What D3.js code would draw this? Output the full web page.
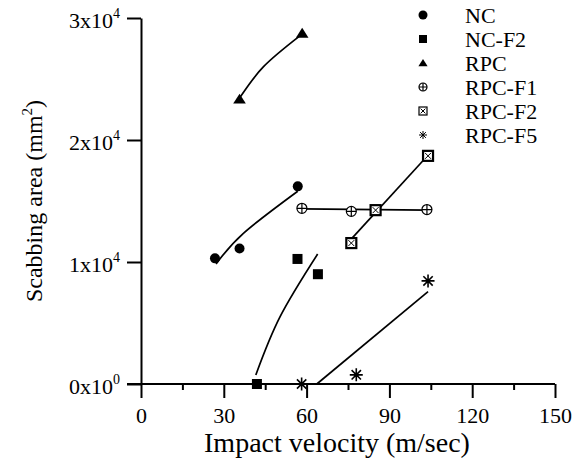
<!DOCTYPE html>
<html>
<head>
<meta charset="utf-8">
<script src="https://cdn.jsdelivr.net/npm/d3@7"></script>
<style>
  body { margin: 0; background: #fff; }
  svg { display: block; font-family: "Liberation Serif", "Times New Roman", serif; }
</style>
</head>
<body>
<svg id="chart" width="580" height="460"></svg>
<script>
// measured points (velocity m/sec, scabbing area mm2)
const ncV = [26.8, 35.7, 56.8];
const ncA = [10300, 11100, 16200];
const ncf2V = [42, 56.7, 64.1];
const ncf2A = [0, 10250, 9000];
const rpcV = [35.7, 58.4];
const rpcA = [23350, 28750];
const rpcf1V = [58.3, 76.2, 103.6];
const rpcf1A = [14400, 14150, 14300];
const rpcf2V = [76.2, 85, 104];
const rpcf2A = [11550, 14250, 18700];
const rpcf5V = [58.2, 78, 104];
const rpcf5A = [0, 750, 8450];

// fitted curves
const ncFitV = [27.2, 37.1, 56.8];
const ncFitA = [9840, 12350, 15800];
const ncf2FitV = [41.6, 50.4, 64];
const ncf2FitA = [740, 5520, 10650];
const rpcFitV = [35.9, 44.4, 57.2];
const rpcFitA = [23500, 26010, 28470];
const rpcf1FitV = [58.3, 103.6];
const rpcf1FitA = [14350, 14250];
const rpcf2FitV = [76.4, 102.4];
const rpcf2FitA = [11940, 18360];
const rpcf5FitV = [63.7, 104];
const rpcf5FitA = [0, 7570];

const seriesNames = ["NC", "NC-F2", "RPC", "RPC-F1", "RPC-F2", "RPC-F5"];
const xTicks = [0, 30, 60, 90, 120, 150];
const xMinorTicks = [15, 45, 75, 105, 135];
const yTicks = [0, 10000, 20000, 30000];
const yTickLabels = [["0x10", "0"], ["1x10", "4"], ["2x10", "4"], ["3x10", "4"]];

const zip = (v, a) => v.map((d, i) => [d, a[i]]);
const series = [
  { name: seriesNames[0], sym: "circle", pts: zip(ncV, ncA), fit: zip(ncFitV, ncFitA) },
  { name: seriesNames[1], sym: "square", pts: zip(ncf2V, ncf2A), fit: zip(ncf2FitV, ncf2FitA) },
  { name: seriesNames[2], sym: "triangle", pts: zip(rpcV, rpcA), fit: zip(rpcFitV, rpcFitA) },
  { name: seriesNames[3], sym: "oplus", pts: zip(rpcf1V, rpcf1A), fit: zip(rpcf1FitV, rpcf1FitA) },
  { name: seriesNames[4], sym: "boxx", pts: zip(rpcf2V, rpcf2A), fit: zip(rpcf2FitV, rpcf2FitA) },
  { name: seriesNames[5], sym: "star", pts: zip(rpcf5V, rpcf5A), fit: zip(rpcf5FitV, rpcf5FitA) },
];

const svg = d3.select("#chart");
const margin = { left: 141, right: 25, top: 18, bottom: 76 };
const width = 580, height = 460;

const x = d3.scaleLinear().domain([0, 150]).range([margin.left, width - margin.right]);
const y = d3.scaleLinear().domain([0, 30000]).range([height - margin.bottom, margin.top]);

// marker drawing, s = size in px
const drawMarker = (g, sym, s, big) => {
  const h = s / 2;
  if (sym === "circle") {
    g.append("circle").attr("r", h).attr("fill", "#000");
  } else if (sym === "square") {
    g.append("rect").attr("x", -h).attr("y", -h).attr("width", s).attr("height", s).attr("fill", "#000");
  } else if (sym === "triangle") {
    g.append("path").attr("d", `M0,${-h}L${h * 1.15},${h * 0.8}L${-h * 1.15},${h * 0.8}Z`).attr("fill", "#000");
  } else if (sym === "oplus") {
    g.append("circle").attr("r", h).attr("fill", "#fff").attr("stroke", "#000").attr("stroke-width", 1.2);
    g.append("path").attr("d", `M${-h},0H${h}M0,${-h}V${h}`).attr("stroke", "#000").attr("stroke-width", 1.2);
  } else if (sym === "boxx") {
    g.append("rect").attr("x", -h).attr("y", -h).attr("width", s).attr("height", s)
      .attr("fill", "#fff").attr("stroke", "#000").attr("stroke-width", big ? 2.2 : 1.2);
    const k = h * 0.6;
    g.append("path").attr("d", `M${-k},${-k}L${k},${k}M${k},${-k}L${-k},${k}`).attr("stroke", "#000").attr("stroke-width", 1);
  } else if (sym === "star") {
    const k = h * 0.72;
    g.append("path")
      .attr("d", `M${-h},0H${h}M0,${-h}V${h}M${-k},${-k}L${k},${k}M${k},${-k}L${-k},${k}`)
      .attr("stroke", "#000").attr("stroke-width", big ? 1.6 : 1);
    if (big) g.append("circle").attr("r", 2.2).attr("fill", "#000");
  }
};

// fitted lines
const line = d3.line().x((d) => x(d[0])).y((d) => y(d[1])).curve(d3.curveNatural);
svg.append("g").classed("fits", true)
  .selectAll("path")
  .data(series)
  .join("path")
  .attr("d", (d) => line(d.fit))
  .attr("fill", "none")
  .attr("stroke", "#000")
  .attr("stroke-width", 1.7);

// axes
svg.append("g")
  .attr("transform", `translate(0,${y(0)})`)
  .call(d3.axisBottom(x).tickValues(xTicks).tickSize(14).tickSizeOuter(0))
  .call((g) => {
    g.select(".domain").attr("stroke-width", 2).attr("d", `M${x(0) - 14},0H${x(150)}`);
    g.selectAll(".tick line").attr("stroke-width", 2);
    g.selectAll(".tick text")
      .attr("y", 39).attr("dy", null)
      .attr("font-size", 22).attr("font-family", "Liberation Serif");
  });

svg.append("g")
  .attr("transform", `translate(0,${y(0)})`)
  .call(d3.axisBottom(x).tickValues(xMinorTicks).tickSize(6).tickFormat(""))
  .call((g) => {
    g.select(".domain").remove();
    g.selectAll(".tick line").attr("stroke-width", 2);
  });

svg.append("g")
  .attr("transform", `translate(${x(0)},0)`)
  .call(d3.axisLeft(y).tickValues(yTicks).tickSize(14).tickPadding(7).tickSizeOuter(0).tickFormat(""))
  .call((g) => {
    g.select(".domain").attr("stroke-width", 2);
    g.selectAll(".tick line").attr("stroke-width", 2);
    g.selectAll(".tick text").each(function (d, i) {
      const t = d3.select(this)
        .attr("dy", null).attr("y", 9)
        .attr("font-size", 22).attr("font-family", "Liberation Serif");
      t.append("tspan").text(yTickLabels[i][0]);
      t.append("tspan").text(yTickLabels[i][1]).attr("font-size", 14).attr("dy", -10);
    });
  });

// axis titles
svg.append("text")
  .attr("x", 337).attr("y", 452)
  .attr("text-anchor", "middle")
  .attr("font-size", 28)
  .text("Impact velocity (m/sec)");

const yTitle = svg.append("text")
  .attr("transform", "translate(42,201) rotate(-90)")
  .attr("text-anchor", "middle")
  .attr("font-size", 24);
yTitle.append("tspan").text("Scabbing area (mm");
yTitle.append("tspan").text("2").attr("font-size", 15).attr("dy", -10);
yTitle.append("tspan").text(")").attr("dy", 10);

// markers
svg.append("g").classed("markers", true)
  .selectAll("g.series")
  .data(series)
  .join("g")
  .attr("class", "series")
  .each(function (s) {
    d3.select(this).selectAll("g")
      .data(s.pts)
      .join("g")
      .attr("transform", (d) => `translate(${x(d[0])},${y(d[1])})`)
      .each(function () {
        const size = s.sym === "triangle" ? 11 : s.sym === "star" ? 13 : 10;
        drawMarker(d3.select(this), s.sym, size, true);
      });
  });

// legend
const legend = svg.append("g").attr("transform", "translate(423,15)");
const rows = legend.selectAll("g")
  .data(series)
  .join("g")
  .attr("transform", (d, i) => `translate(0,${i * 24})`);
rows.each(function (s) {
  drawMarker(d3.select(this), s.sym, s.sym === "circle" ? 9 : 8, false);
});
rows.append("text")
  .attr("x", 42).attr("y", 7.5)
  .attr("font-size", 22)
  .text((d) => d.name);
</script>
</body>
</html>
